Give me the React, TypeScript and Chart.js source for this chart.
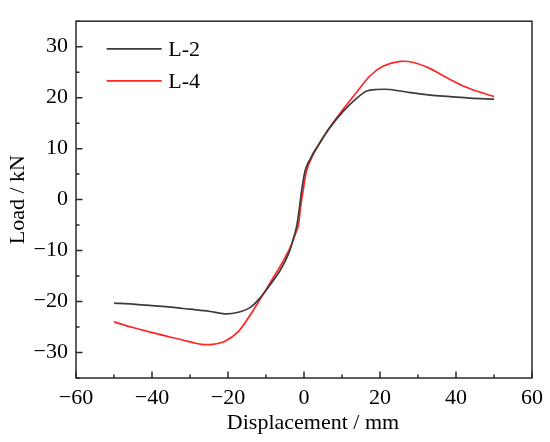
import React, { useEffect, useRef } from "react";
import { Chart, registerables } from "chart.js";

Chart.register(...registerables);

// ---- data ----
const l2Disp = [-50, -45, -40, -35, -30, -25, -20.8, -17.3, -14.2, -11.6, -8.9, -6.3, -4.1, -2.8, -1.9, -1.2, -0.6, 0.3, 1.0, 1.6, 2.5, 3.8, 6.6, 10.3, 13.9, 16.5, 19.1, 22.6, 27.9, 33.2, 38.4, 43.7, 50];
const l2Load = [-20.3, -20.5, -20.8, -21.1, -21.5, -21.9, -22.4, -22.1, -21.2, -19.3, -16.7, -13.9, -10.7, -7.7, -5.1, -1.6, 1.9, 5.7, 7.1, 7.9, 9.2, 10.7, 13.9, 17.3, 19.9, 21.3, 21.6, 21.6, 21.0, 20.5, 20.2, 19.9, 19.7];

const l4Disp = [-50, -45, -40, -35, -30, -27, -24, -20.8, -17.3, -14.2, -11.6, -8.5, -5.9, -3.7, -2.4, -1.5, -0.9, -0.2, 0.7, 2.0, 3.8, 6.6, 10.3, 13.9, 17.4, 20.9, 25.3, 28.8, 33.2, 37.6, 41.9, 45.4, 50];
const l4Load = [-24.0, -25.1, -26.1, -27.0, -27.9, -28.4, -28.4, -27.8, -25.9, -22.7, -19.6, -15.8, -12.6, -9.5, -7.0, -5.1, -1.5, 1.9, 5.7, 8.2, 10.7, 14.0, 17.7, 21.1, 24.3, 26.2, 27.1, 26.9, 25.7, 23.9, 22.3, 21.3, 20.2];

const seriesNames = ["L-2", "L-4"];
const seriesColors = ["#3c3c3c", "#ff2626"];

const xTitle = "Displacement / mm";
const yTitle = "Load / kN";

const xMajorTicks = [-60, -40, -20, 0, 20, 40, 60];
const xMinorTicks = [-50, -30, -10, 10, 30, 50];
const yMajorTicks = [-30, -20, -10, 0, 10, 20, 30];
const yMinorTicks = [-35, -25, -15, -5, 5, 15, 25, 35];

const FONT = "'Liberation Serif', 'Times New Roman', serif";

const fmt = (v: number | string) => String(v).replace("-", "\u2212");

const frameAndTicks = {
  id: "frameAndTicks",
  afterDatasetsDraw(chart: any) {
    const { ctx, chartArea } = chart;
    const xs = chart.scales.x;
    const ys = chart.scales.y;
    ctx.save();
    ctx.strokeStyle = "#2a2a2a";
    ctx.lineWidth = 1.5;
    ctx.strokeRect(chartArea.left, chartArea.top, chartArea.right - chartArea.left, chartArea.bottom - chartArea.top);
    ctx.beginPath();
    const drawX = (vals: number[], len: number) => {
      vals.forEach((v) => {
        const px = xs.getPixelForValue(v);
        ctx.moveTo(px, chartArea.bottom);
        ctx.lineTo(px, chartArea.bottom - len);
      });
    };
    const drawY = (vals: number[], len: number) => {
      vals.forEach((v) => {
        const py = ys.getPixelForValue(v);
        ctx.moveTo(chartArea.left, py);
        ctx.lineTo(chartArea.left + len, py);
      });
    };
    drawX(xMajorTicks, 6.5);
    drawX(xMinorTicks, 3.5);
    drawY(yMajorTicks, 6.5);
    drawY(yMinorTicks, 3.5);
    ctx.stroke();

    // x axis title
    ctx.font = `22px ${FONT}`;
    ctx.fillStyle = "#000";
    ctx.textAlign = "center";
    ctx.textBaseline = "middle";
    ctx.fillText(xTitle, (chartArea.left + chartArea.right) / 2 + 9, chartArea.bottom + 45);

    // legend
    const ds = chart.data.datasets;
    ctx.textBaseline = "middle";
    ctx.textAlign = "left";
    ds.forEach((d: any, i: number) => {
      const y = chartArea.top + 27.7 + i * 32;
      const x0 = chartArea.left + 30.7;
      ctx.strokeStyle = d.borderColor;
      ctx.lineWidth = 1.6;
      ctx.beginPath();
      ctx.moveTo(x0, y);
      ctx.lineTo(x0 + 55, y);
      ctx.stroke();
      ctx.fillStyle = "#000";
      ctx.fillText(d.label, x0 + 61.5, y + 1);
    });
    ctx.restore();
  },
};

export default function App() {
  const ref = useRef<HTMLCanvasElement>(null);
  useEffect(() => {
    if (!ref.current) return;
    const mk = (xs: number[], ys: number[]) => xs.map((x, i) => ({ x, y: ys[i] }));
    const chart = new Chart(ref.current, {
      type: "scatter",
      data: {
        datasets: [
          {
            label: seriesNames[0],
            data: mk(l2Disp, l2Load),
            borderColor: seriesColors[0],
            backgroundColor: seriesColors[0],
            showLine: true,
            pointRadius: 0,
            borderWidth: 1.7,
            tension: 0.35,
          },
          {
            label: seriesNames[1],
            data: mk(l4Disp, l4Load),
            borderColor: seriesColors[1],
            backgroundColor: seriesColors[1],
            showLine: true,
            pointRadius: 0,
            borderWidth: 1.7,
            tension: 0.35,
          },
        ],
      },
      options: {
        responsive: false,
        animation: false,
        devicePixelRatio: 1,
        layout: { padding: { left: 0, right: 18, top: 8, bottom: 0 } },
        plugins: { legend: { display: false }, tooltip: { enabled: false } },
        scales: {
          x: {
            type: "linear",
            min: -60,
            max: 60,
            afterBuildTicks: (s: any) => {
              s.ticks = xMajorTicks.map((v) => ({ value: v }));
            },
            afterFit: (s: any) => {
              s.height = 64;
            },
            grid: { display: false, drawTicks: false },
            border: { display: false },
            ticks: {
              padding: 7,
              color: "#000",
              font: { family: FONT, size: 22 },
              callback: (v: any) => fmt(v),
              maxRotation: 0,
            },
            title: { display: false, text: xTitle },
          },
          y: {
            type: "linear",
            min: -35,
            max: 35,
            afterBuildTicks: (s: any) => {
              s.ticks = yMajorTicks.map((v) => ({ value: v }));
            },
            afterFit: (s: any) => {
              s.width = 76;
            },
            grid: { display: false, drawTicks: false },
            border: { display: false },
            ticks: {
              padding: 8,
              color: "#000",
              font: { family: FONT, size: 22 },
              callback: (v: any) => fmt(v),
            },
            title: {
              display: true,
              text: yTitle,
              color: "#000",
              font: { family: FONT, size: 22 },
              padding: { top: 5, bottom: 0 },
            },
          },
        },
      },
      plugins: [frameAndTicks],
    });
    return () => chart.destroy();
  }, []);
  return (
    <div style={{ position: "fixed", left: 0, top: 0, width: 550, height: 442, background: "#fff" }}>
      <canvas ref={ref} width={550} height={442} />
    </div>
  );
}
